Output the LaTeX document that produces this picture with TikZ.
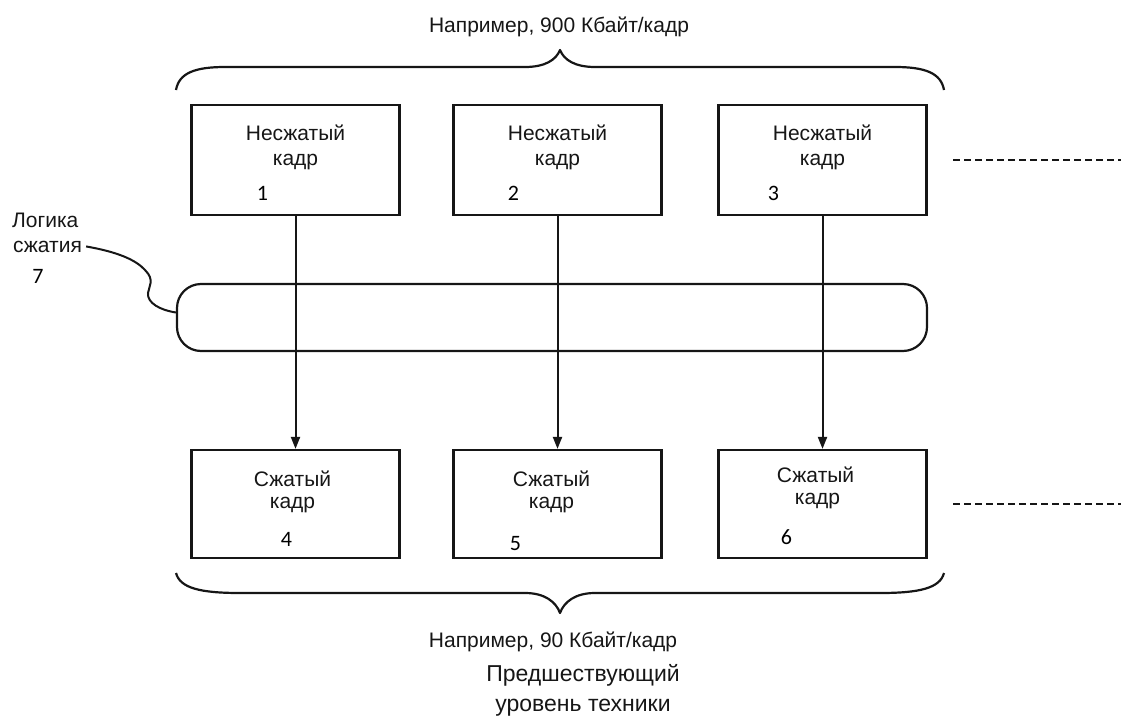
\documentclass[tikz,border=0pt]{standalone}
\usepackage{fontspec}
\setmainfont{Liberation Sans}
\newfontfamily\labelfont{Liberation Sans}
\newfontfamily\numfont{Carlito}
\usetikzlibrary{calc,arrows.meta}
\definecolor{ink}{HTML}{161616}
\tikzset{
  frame/.style={draw=ink, line width=2.2pt, minimum width=208pt, inner sep=0pt},
  topframe/.style={frame, minimum height=110pt},
  botframe/.style={frame, minimum height=108pt},
  txt/.style={text=ink, inner sep=0pt, anchor=base, font=\labelfont\fontsize{21}{25}\selectfont},
  bigtxt/.style={txt, font=\labelfont\fontsize{23}{27}\selectfont},
  num/.style={text=black, inner sep=0pt, anchor=base, font=\numfont\fontsize{22}{26}\selectfont},
  flow/.style={draw=ink, line width=2pt, -{Triangle[length=12pt,width=9pt]}},
  brace/.style={draw=ink, line width=2.2pt, line join=round},
  more/.style={draw=ink, line width=1.8pt, dash pattern=on 7pt off 4pt},
  lead/.style={draw=ink, line width=2pt},
  pipe/.style={draw=ink, line width=2.2pt, rounded corners=24pt, inner sep=0pt,
               minimum width=750pt, minimum height=67pt}
}
\begin{document}
\begin{tikzpicture}[x=1pt,y=-1pt]
\useasboundingbox (0,0) rectangle (1121,720);

% uncompressed frames (top row)
\node[topframe] (b1) at (295.5,160) {};
\node[topframe] (b2) at (557.5,160) {};
\node[topframe] (b3) at (822.5,160) {};
% compressed frames (bottom row)
\node[botframe] (c1) at (295.5,504) {};
\node[botframe] (c2) at (557.5,504) {};
\node[botframe] (c3) at (822.5,504) {};

% compression logic band
\node[pipe] (logic) at (552,317.5) {};

% frame captions
\foreach \b/\n/\dx in {b1/1/-33, b2/2/-44, b3/3/-49} {
  \node[txt] (\b-l1) at ($(\b.north)+(0,37)$) {Несжатый};
  \node[txt] (\b-l2) at ($(\b.north)+(0,62)$) {кадр};
  \node[num] (\b-n)  at ($(\b.north)+(\dx,97)$) {\n};
}
\node[txt] (c1-l1) at ($(c1.north)+(-3,38)$) {Сжатый};
\node[txt] (c1-l2) at ($(c1.north)+(-3,60)$) {кадр};
\node[num] (c1-n)  at ($(c1.north)+(-9,98)$) {4};
\node[txt] (c2-l1) at ($(c2.north)+(-6,38)$) {Сжатый};
\node[txt] (c2-l2) at ($(c2.north)+(-6,60)$) {кадр};
\node[num] (c2-n)  at ($(c2.north)+(-42,102)$) {5};
\node[txt] (c3-l1) at ($(c3.north)+(-7,34)$) {Сжатый};
\node[txt] (c3-l2) at ($(c3.north)+(-5,56)$) {кадр};
\node[num] (c3-n)  at ($(c3.north)+(-36,96)$) {6};

% compression arrows
\draw[flow] (b1.south) -- (c1.north);
\draw[flow] (b2.south) -- (c2.north);
\draw[flow] (b3.south) -- (c3.north);

% continuation marks
\coordinate (m1a) at (953,160);
\coordinate (m1b) at (1121,160);
\coordinate (m2a) at (953,504);
\coordinate (m2b) at (1121,504);
\draw[more] (m1a) -- (m1b);
\draw[more] (m2a) -- (m2b);

% braces
\draw[brace] (176,90) .. controls (179,73) and (195,67) .. (225,67) -- (525,67)
  .. controls (545,67) and (556,60) .. (560,50)
  .. controls (564,60) and (575,67) .. (595,67) -- (895,67)
  .. controls (925,67) and (941,73) .. (944,90);
\draw[brace] (176,573) .. controls (180,588) and (200,593) .. (240,593) -- (525,593)
  .. controls (545,593) and (556,602) .. (560,613)
  .. controls (564,602) and (575,593) .. (595,593) -- (880,593)
  .. controls (920,593) and (940,588) .. (944,573);

% brace captions
\node[txt] (rate-in)  at (559,32)  {Например, 900 Кбайт/кадр};
\node[txt] (rate-out) at (553,647) {Например, 90 Кбайт/кадр};
\node[bigtxt] (art1) at (583,681) {Предшествующий};
\node[bigtxt] (art2) at (583,711) {уровень техники};

% logic label with its leader
\node[txt, anchor=base west] (lg1) at (12,227) {Логика};
\node[txt, anchor=base west] (lg2) at (13,252) {сжатия};
\node[num] (lg-n) at (38,283) {7};
\draw[lead] ([xshift=4pt]lg2.east) .. controls (118,252) and (136,260) .. (145,270)
  .. controls (155,280) and (149,286) .. (148,293)
  .. controls (147,303) and (160,310) .. ([yshift=5pt]logic.west);
\end{tikzpicture}
\end{document}
